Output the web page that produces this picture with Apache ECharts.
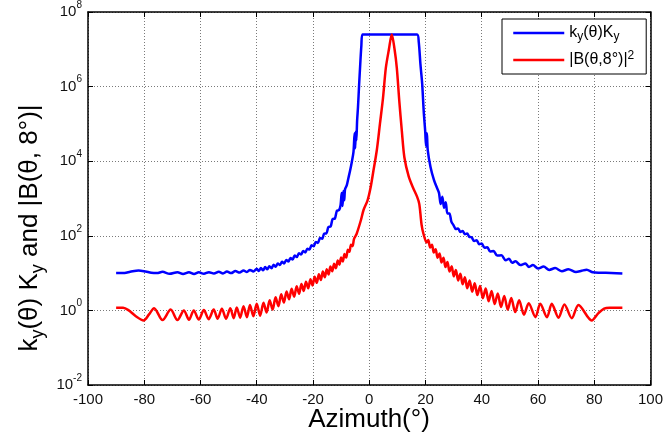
<!DOCTYPE html>
<html>
<head>
<meta charset="utf-8">
<script src="https://cdn.jsdelivr.net/npm/echarts@6/dist/echarts.min.js"></script>
<style>
  html, body { margin: 0; padding: 0; background: #fff; }
  #chart { width: 666px; height: 441px; }
</style>
</head>
<body>
<div id="chart"></div>
<script>
// Beam gain k_y(θ)K_y versus azimuth (degrees)
const kyAz = [
  -90, -87, -85, -82, -79.5, -77.5, -75.5, -73.5, -71, -68.2, -66.2, -64.1, -62.3, -60.6, -58.8, -57,
  -55.2, -53.5, -52, -50.6, -49.1, -47.6, -46.1, -44.7, -43.5, -42.4, -41.2,
  -40.0, -39.25, -38.5, -37.75, -37.0, -36.25, -35.5, -34.75, -34.0, -33.25, -32.5, -31.75,
  -31.0, -30.25, -29.5, -28.75, -28.0, -27.25, -26.5, -25.75, -25.0, -24.25, -23.5, -22.75,
  -22.0, -21.25, -20.5, -19.75, -19.0, -18.25, -17.5, -16.75, -16.0, -15.25, -14.5, -13.75,
  -13.0, -12.25, -11.5, -10.75, -10.2, -9.8, -9.5, -9.2, -8.9, -8.6, -8.0, -7.4, -6.8, -6.2,
  -5.6, -5.2, -5.0, -4.8, -4.6, -4.3, -4.0, -3.6, -3.2, -2.8, -2.4,
  2, 7, 12, 17.0, 17.6, 18.2, 18.8, 19.4, 19.9, 20.2, 20.5, 20.8, 21.8, 23.0, 24.0,
  24.8, 25.4, 26.0, 26.6, 27.2, 27.8, 28.5, 29.2, 30.0, 30.8, 31.6, 32.4, 33.2, 34.0, 34.8,
  35.6, 36.4, 37.3, 38.2, 39.1, 40.0, 41.0, 42.0, 43.0, 44.2, 45.5, 47.0, 48.5, 49.7, 50.8,
  52.0, 53.7, 55.5, 56.8, 58.2, 60.0, 62.0, 64.0, 66.1, 68.5, 70.8, 73.5, 75.5, 77.3, 79.5,
  82, 86, 90
];
const kyVal = [
  10.0, 10.1, 10.8, 11.8, 11.0, 10.2, 10.0, 10.8, 9.6, 10.6, 9.5, 10.6, 9.5, 10.5, 9.6, 10.6,
  9.7, 10.8, 9.8, 11.0, 10.0, 11.3, 10.3, 11.7, 10.7, 12.2, 11.1,
  13.0, 11.4, 13.6, 11.9, 14.5, 12.6, 15.3, 13.5, 16.8, 14.8, 18.2, 16.4,
  20.2, 18.2, 22.6, 20.4, 25.4, 23.2, 29.5, 26.9, 34.3, 31.3, 39.4, 35.9,
  45.2, 42.7, 55.6, 52.5, 68.4, 64.6, 87.1, 83.2, 115, 116, 172, 176,
  282, 288, 468, 490, 661, 1413, 631, 1585, 891, 1778, 2239, 3548, 5623, 9550,
  17780, 56230, 22390, 63100, 35480, 125900, 281800, 1120000, 3980000, 12600000, 25000000,
  25000000, 25000000, 25000000, 25000000, 15800000, 3980000, 1260000, 200000, 63100, 25120, 56230, 19950, 6918, 3162, 1995,
  1413, 708, 1122, 562, 794, 398, 398, 240, 191, 151, 158, 126, 135, 110, 115,
  93.3, 91.2, 72.4, 75.9, 59.6, 61.7, 47.9, 49.0, 38.0, 38.9, 29.5, 29.9, 22.1, 24.3, 18.8,
  20.7, 16.4, 18.0, 14.6, 16.4, 13.3, 15.0, 12.2, 13.6, 11.2, 12.7, 10.7, 11.5, 12.3, 10.5,
  10.2, 10.1, 9.8
];

// Squared beam pattern |B(θ,8°)|^2 versus azimuth (degrees)
const bAz = [
  -90, -87.5, -85.5, -83, -80.2, -78.3, -76.5, -73.5, -70.6, -68.2, -65.9, -64.1, -62.4, -60.6,
  -58.8, -57.1, -55.3, -53.9, -52.4, -50.9, -49.4, -48.2, -47.1, -45.9, -44.7, -43.5, -42.4,
  -41.2, -40.0, -38.8, -37.6, -36.5, -35.4, -34.35, -33.3, -32.3, -31.3, -30.35, -29.4, -28.5,
  -27.6, -26.7, -25.8, -24.95, -24.1, -23.3, -22.5, -21.7, -20.9, -20.15, -19.4, -18.65, -17.9,
  -17.2, -16.5, -15.8, -15.1, -14.45, -13.8, -13.15, -12.5, -11.85, -11.2, -10.6, -10.0, -9.4,
  -8.8, -8.2, -7.6, -7.05, -6.5, -5.95, -5.4, -4.5, -3.0, -2.0, -0.6, 0.5, 1.5, 2.7, 3.8, 4.9,
  5.9, 7.0, 8.0, 9.0, 9.8, 10.7, 11.6, 12.5, 14.0, 15.5, 17.0, 17.8, 18.6, 19.3, 20.4, 21.0,
  21.65, 22.3, 22.95, 23.6, 24.3, 25.0, 25.7, 26.4, 27.1, 27.8, 28.55, 29.3, 30.05, 30.8, 31.6,
  32.4, 33.2, 34.0, 34.85, 35.7, 36.6, 37.5, 38.45, 39.4, 40.4, 41.4, 42.45, 43.5, 44.6, 45.7,
  46.85, 48.0, 49.25, 50.5, 51.9, 53.3, 55.0, 56.7, 59.1, 60.8, 63.2, 64.9, 67.3, 69.4, 72.0,
  74.4, 79.1, 81.5, 83.5, 85.5, 90
];
const bVal = [
  1.18, 1.18, 1.0, 0.7, 0.54, 0.78, 1.15, 0.55, 1.05, 0.55, 1.0, 0.56, 1.0, 0.57,
  1.02, 0.58, 1.05, 0.6, 1.1, 0.6, 1.15, 0.62, 1.2, 0.64, 1.3, 0.66, 1.4,
  0.7, 1.5, 0.72, 1.6, 0.88, 1.88, 1.05, 2.24, 1.30, 2.69, 1.62, 3.20, 2.0,
  3.80, 2.34, 4.42, 2.79, 5.13, 3.31, 5.89, 3.94, 6.84, 4.68, 7.94, 5.50, 9.33,
  6.53, 10.96, 7.76, 12.7, 9.2, 15.0, 11.2, 17.8, 13.5, 21.6, 16.8, 26.0, 20.4,
  32.4, 26.0, 42.2, 37.2, 57.5, 52.5, 83.2, 112, 257, 500, 891, 2000, 5620, 20000, 100000, 501000,
  3160000, 10000000, 25000000, 10000000, 3160000, 398000, 63100, 12600, 3980, 2000, 1120, 708, 200, 112, 66, 76.7,
  48.4, 57.5, 35.5, 43.7, 25.7, 33.5, 19.3, 25.7, 14.5, 19.7, 11.0, 15.3, 8.22, 12.2, 6.38,
  9.55, 5.01, 7.76, 3.94, 6.38, 3.16, 5.31, 2.57, 4.52, 2.11, 3.89, 1.76, 3.31, 1.48, 2.82,
  1.23, 2.45, 1.05, 2.14, 0.90, 1.86, 0.77, 1.55, 0.66, 1.5, 0.66, 1.5, 0.64, 1.45, 0.62,
  1.4, 0.54, 0.85, 1.12, 1.18, 1.18
];

const xTicks = { min: -100, max: 100, step: 20 };
const yRange = { min: 0.01, max: 1e8, decadeStep: 2 };

const KY_NAME = 'k_y(θ)K_y';
const B_NAME = '|B(θ,8°)|^2';
const FONT = '"Liberation Sans", Arial, Helvetica, sans-serif';

const pairs = (xs, ys) => xs.map((x, i) => [x, ys[i]]);

const chart = echarts.init(document.getElementById('chart'), null, { renderer: 'canvas' });

const gridLine = { show: true, lineStyle: { color: '#7a7a7a', type: [1, 2], width: 1 } };
const frameLine = { show: true, onZero: false, lineStyle: { color: '#000', width: 1.5 } };
const frameTick = { show: true, inside: true, length: 5, lineStyle: { color: '#000', width: 1 } };

chart.setOption({
  animation: false,
  backgroundColor: '#fff',
  grid: { left: 88, right: 11, top: 12, bottom: 56, containLabel: false },
  legend: {
    data: [KY_NAME, B_NAME],
    orient: 'vertical',
    left: 502,
    top: 19,
    padding: [6, 12, 6, 10],
    itemGap: 7,
    itemWidth: 51,
    itemHeight: 20,
    borderColor: '#000',
    borderWidth: 1,
    backgroundColor: '#fff',
    borderRadius: 0,
    itemStyle: { opacity: 0 },
    lineStyle: { width: 2.5 },
    formatter: function (name) {
      if (name === KY_NAME) return '{t|k}{sb|y}{t|(θ)K}{sb|y}';
      return '{t||B(θ,8°)|}{sp|2}';
    },
    textStyle: {
      color: '#000',
      rich: {
        t: { fontSize: 16, lineHeight: 20, fontFamily: FONT, color: '#000' },
        sb: { fontSize: 12, lineHeight: 12, verticalAlign: 'bottom', fontFamily: FONT, color: '#000' },
        sp: { fontSize: 12, lineHeight: 12, verticalAlign: 'top', fontFamily: FONT, color: '#000' }
      }
    }
  },
  xAxis: [
    {
      type: 'value',
      min: xTicks.min, max: xTicks.max, interval: xTicks.step,
      position: 'bottom',
      axisLine: frameLine,
      axisTick: frameTick,
      axisLabel: { show: true, margin: 7, fontSize: 15, fontFamily: FONT, color: '#111' },
      splitLine: gridLine
    },
    {
      type: 'value',
      min: xTicks.min, max: xTicks.max, interval: xTicks.step,
      position: 'top',
      axisLine: frameLine,
      axisTick: frameTick,
      axisLabel: { show: false },
      splitLine: { show: false }
    }
  ],
  yAxis: [
    {
      type: 'log', logBase: 10,
      min: yRange.min, max: yRange.max, interval: yRange.decadeStep,
      position: 'left',
      axisLine: frameLine,
      axisTick: frameTick,
      minorTick: { show: false },
      axisLabel: {
        show: true, margin: 6, color: '#111',
        formatter: function (v) {
          const e = Math.round(Math.log10(v));
          return '{b|10}{s|' + e + '}';
        },
        rich: {
          b: { fontSize: 15, lineHeight: 24, fontFamily: FONT, color: '#111' },
          s: { fontSize: 10, lineHeight: 10, verticalAlign: 'top', fontFamily: FONT, color: '#111' }
        }
      },
      splitLine: gridLine
    },
    {
      type: 'log', logBase: 10,
      min: yRange.min, max: yRange.max, interval: yRange.decadeStep,
      position: 'right',
      axisLine: frameLine,
      axisTick: frameTick,
      axisLabel: { show: false },
      splitLine: { show: false }
    }
  ],
  series: [
    {
      name: KY_NAME,
      type: 'line',
      xAxisIndex: 0, yAxisIndex: 0,
      data: pairs(kyAz, kyVal),
      showSymbol: false, symbol: 'none',
      smooth: 0.3,
      lineStyle: { color: '#0000ff', width: 2.5 },
      itemStyle: { color: '#0000ff' },
      z: 2
    },
    {
      name: B_NAME,
      type: 'line',
      xAxisIndex: 0, yAxisIndex: 0,
      data: pairs(bAz, bVal),
      showSymbol: false, symbol: 'none',
      smooth: 0.3,
      lineStyle: { color: '#ff0000', width: 2.5 },
      itemStyle: { color: '#ff0000' },
      z: 3
    }
  ],
  graphic: [
    {
      type: 'text',
      x: 369, y: 420,
      style: {
        text: 'Azimuth(°)',
        fontSize: 26, fontFamily: FONT, fill: '#000',
        align: 'center', verticalAlign: 'middle'
      }
    },
    {
      type: 'text',
      x: 30, y: 228,
      rotation: Math.PI / 2,
      style: {
        text: '{m|k}{sb|y}{m|(θ) K}{sb|y}{m| and |B(θ, 8°)|}',
        align: 'center', verticalAlign: 'middle',
        rich: {
          m: { fontSize: 26, lineHeight: 34, fontFamily: FONT, fill: '#000', color: '#000' },
          sb: { fontSize: 18, lineHeight: 18, verticalAlign: 'bottom', fontFamily: FONT, fill: '#000', color: '#000' }
        }
      }
    }
  ]
});
</script>
</body>
</html>
